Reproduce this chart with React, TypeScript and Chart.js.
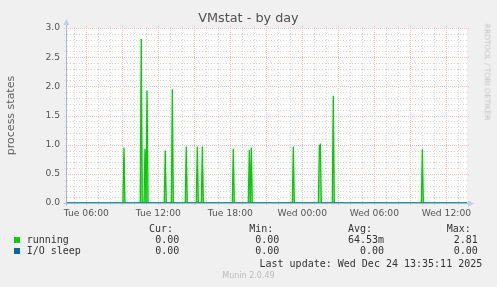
import React, { useEffect, useRef } from 'react';
import { Chart, registerables } from 'chart.js';
Chart.register(...registerables);

// Time axis in hours since Tue 00:00
const X_MIN = 4.31;
const X_MAX = 37.72;
const SAMPLE_STEP = 5 / 60;

// running spikes (hours since Tue 00:00) and values
const runningHours = [9.14, 10.58, 10.89, 11.06, 12.58, 13.17, 14.33, 15.25, 15.67, 18.25, 19.58, 19.75, 23.25, 25.42, 25.5, 26.58, 34.0];
const runningValues = [0.95, 2.81, 0.93, 1.93, 0.9, 1.95, 0.97, 0.97, 0.97, 0.93, 0.91, 0.95, 0.97, 0.98, 1.0, 1.84, 0.92];
// I/O sleep is flat at zero
const ioSleepHours = [X_MIN, X_MAX];
const ioSleepValues = [0, 0];

const xTickHours = [6, 12, 18, 24, 30, 36];
const xTickLabels = ['Tue 06:00', 'Tue 12:00', 'Tue 18:00', 'Wed 00:00', 'Wed 06:00', 'Wed 12:00'];
const yTickValues = [0, 0.5, 1, 1.5, 2, 2.5, 3];

const legendNames = ['running', 'I/O sleep'];
const legendColors = ['#00CC00', '#0066B3'];
const legendCur = ['0.00', '0.00'];
const legendMin = ['0.00', '0.00'];
const legendAvg = ['64.53m', '0.00'];
const legendMax = ['2.81', '0.00'];

function buildRunning() {
  const pts: { x: number; y: number }[] = [{ x: X_MIN, y: 0 }];
  const n = runningHours.length;
  runningHours.forEach((h, i) => {
    const prev = i > 0 ? runningHours[i - 1] : -Infinity;
    const next = i < n - 1 ? runningHours[i + 1] : Infinity;
    if (h - prev > SAMPLE_STEP * 1.5) pts.push({ x: h - SAMPLE_STEP, y: 0 });
    pts.push({ x: h, y: runningValues[i] });
    if (next - h > SAMPLE_STEP * 1.5) pts.push({ x: h + SAMPLE_STEP, y: 0 });
  });
  pts.push({ x: X_MAX, y: 0 });
  return pts;
}

const bgPlugin = {
  id: 'rrdBg',
  beforeDraw(chart: any) {
    const { ctx, chartArea: a } = chart;
    ctx.save();
    ctx.fillStyle = '#F0F0F0';
    ctx.fillRect(0, 0, chart.width, chart.height);
    ctx.fillStyle = '#FFFFFF';
    ctx.fillRect(a.left, a.top, a.right - a.left, a.bottom - a.top);
    ctx.restore();
  },
};

const gridPlugin = {
  id: 'rrdGrid',
  beforeDatasetsDraw(chart: any) {
    const { ctx, chartArea: a, scales } = chart;
    const xs = scales.x;
    const ys = scales.y;
    ctx.save();
    ctx.lineWidth = 1;
    const style = (major: boolean) => {
      ctx.strokeStyle = major ? '#F3BDBD' : '#D6D6D6';
      ctx.setLineDash(major ? [1, 1] : [1, 2]);
    };
    const drawV = (major: boolean) => {
      style(major);
      for (let h = Math.ceil(X_MIN); h <= X_MAX; h++) {
        if ((h % 3 === 0) !== major) continue;
        const px = Math.round(xs.getPixelForValue(h)) + 0.5;
        ctx.beginPath();
        ctx.moveTo(px, a.bottom + 2);
        ctx.lineTo(px, a.top - 2);
        ctx.stroke();
      }
    };
    const drawH = (major: boolean) => {
      style(major);
      for (let k = 1; k <= 30; k++) {
        if ((k % 5 === 0) !== major) continue;
        const py = Math.round(ys.getPixelForValue(k / 10)) + 0.5;
        ctx.beginPath();
        ctx.moveTo(a.left - 2, py);
        ctx.lineTo(a.right + 2, py);
        ctx.stroke();
      }
    };
    drawV(false);
    drawH(false);
    drawV(true);
    drawH(true);
    ctx.restore();
  },
};

const axisPlugin = {
  id: 'rrdAxis',
  afterDatasetsDraw(chart: any) {
    const { ctx, chartArea: a } = chart;
    ctx.save();
    ctx.setLineDash([]);
    ctx.lineWidth = 1;
    ctx.strokeStyle = '#A8B2E6';
    const bx = Math.round(a.left) + 0.5;
    const by = Math.round(a.bottom) + 0.5;
    ctx.beginPath();
    ctx.moveTo(bx, by + 2);
    ctx.lineTo(bx, a.top - 4);
    ctx.moveTo(bx - 3, by);
    ctx.lineTo(a.right + 2, by);
    ctx.stroke();
    ctx.fillStyle = '#C2CAF4';
    ctx.beginPath();
    ctx.moveTo(bx - 3, a.top - 3);
    ctx.lineTo(bx + 3, a.top - 3);
    ctx.lineTo(bx, a.top - 9);
    ctx.closePath();
    ctx.fill();
    ctx.beginPath();
    ctx.moveTo(a.right + 1, by - 3);
    ctx.lineTo(a.right + 1, by + 3);
    ctx.lineTo(a.right + 7, by);
    ctx.closePath();
    ctx.fill();
    ctx.restore();
  },
};

function Txt(props: { x: number; y: number; size: number; mono?: boolean; color?: string; children: any }) {
  const { x, y, size, mono, color } = props;
  return (
    <div
      style={{
        position: 'absolute',
        left: x,
        top: y - 0.846 * size,
        fontFamily: mono ? '"DejaVu Sans Mono", monospace' : '"DejaVu Sans", sans-serif',
        fontSize: size,
        lineHeight: `${size}px`,
        color: color || '#333',
        whiteSpace: 'pre',
      }}
    >
      {props.children}
    </div>
  );
}

export default function App() {
  const ref = useRef<HTMLCanvasElement | null>(null);
  useEffect(() => {
    if (!ref.current) return;
    const chart = new Chart(ref.current, {
      type: 'line',
      data: {
        datasets: [
          {
            label: legendNames[1],
            data: ioSleepHours.map((h, i) => ({ x: h, y: ioSleepValues[i] })),
            borderColor: legendColors[1],
            borderWidth: 1,
            pointRadius: 0,
            fill: false,
          },
          {
            label: legendNames[0],
            data: buildRunning(),
            borderColor: '#00CC00',
            backgroundColor: 'rgba(0,204,0,0.45)',
            borderWidth: 1.3,
            pointRadius: 0,
            fill: 'origin',
          },
        ],
      },
      options: {
        animation: false,
        responsive: false,
        maintainAspectRatio: false,
        layout: { padding: { left: 0, right: 30, top: 28, bottom: 0 } },
        plugins: { legend: { display: false }, title: { display: false }, tooltip: { enabled: false } },
        elements: { line: { tension: 0 } },
        scales: {
          x: {
            type: 'linear',
            min: X_MIN,
            max: X_MAX,
            grid: { display: false, drawTicks: false },
            border: { display: false },
            afterFit: (s: any) => {
              s.height = 84;
            },
            afterBuildTicks: (s: any) => {
              s.ticks = xTickHours.map((v) => ({ value: v }));
            },
            ticks: {
              autoSkip: false,
              maxRotation: 0,
              padding: 5.5,
              color: '#555555',
              font: { family: 'DejaVu Sans', size: 9.2 },
              callback: (v: any) => {
                const i = xTickHours.indexOf(Number(v));
                return i >= 0 ? xTickLabels[i] : '';
              },
            },
          },
          y: {
            min: 0,
            max: 3,
            grid: { display: false, drawTicks: false },
            border: { display: false },
            title: {
              display: true,
              text: 'process states',
              color: '#606060',
              font: { family: 'DejaVu Sans', size: 11, lineHeight: 1 },
              padding: { top: 6, bottom: 0 },
            },
            afterFit: (s: any) => {
              s.width = 66;
            },
            afterBuildTicks: (s: any) => {
              s.ticks = yTickValues.map((v) => ({ value: v }));
            },
            ticks: {
              padding: 6,
              color: '#555555',
              font: { family: 'DejaVu Sans', size: 9.2 },
              callback: (v: any) => Number(v).toFixed(1),
            },
          },
        },
      },
      plugins: [bgPlugin, gridPlugin, axisPlugin],
    } as any);
    return () => chart.destroy();
  }, []);

  const rowBase = [243, 254.3];
  return (
    <div style={{ position: 'fixed', left: 0, top: 0, width: 497, height: 287, background: '#F0F0F0', overflow: 'hidden' }}>
      <canvas ref={ref} width={497} height={287} style={{ position: 'absolute', left: 0, top: 0, display: 'block' }} />
      <div
        style={{
          position: 'absolute',
          left: 0,
          width: 497,
          top: 23.3 - 0.846 * 12.8,
          textAlign: 'center',
          fontFamily: '"DejaVu Sans", sans-serif',
          fontSize: 12.8,
          lineHeight: '12.8px',
          color: '#505050',
        }}
      >
        VMstat - by day
      </div>
      <div
        style={{
          position: 'absolute',
          left: 487,
          top: 72,
          transform: 'translate(-50%, -50%) rotate(90deg)',
          fontFamily: '"DejaVu Sans", sans-serif',
          fontSize: 7.5,
          lineHeight: '7.5px',
          color: '#C4C4C4',
          whiteSpace: 'nowrap',
        }}
      >
        RRDTOOL / TOBI OETIKER
      </div>
      <Txt x={149} y={232.3} size={10} mono>Cur:</Txt>
      <Txt x={249.3} y={232.3} size={10} mono>Min:</Txt>
      <Txt x={348} y={232.3} size={10} mono>Avg:</Txt>
      <Txt x={446.7} y={232.3} size={10} mono>Max:</Txt>
      {legendNames.map((name, i) => (
        <React.Fragment key={name}>
          <div
            style={{
              position: 'absolute',
              left: 14,
              top: rowBase[i] - 6,
              width: 6,
              height: 6,
              background: legendColors[i],
            }}
          />
          <Txt x={26.7} y={rowBase[i]} size={10} mono>{name}</Txt>
          <Txt x={155.3} y={rowBase[i]} size={10} mono>{legendCur[i]}</Txt>
          <Txt x={255.3} y={rowBase[i]} size={10} mono>{legendMin[i]}</Txt>
          <Txt x={384 - legendAvg[i].length * 6.02} y={rowBase[i]} size={10} mono>{legendAvg[i]}</Txt>
          <Txt x={453.7} y={rowBase[i]} size={10} mono>{legendMax[i]}</Txt>
        </React.Fragment>
      ))}
      <Txt x={259.5} y={267} size={10} mono>Last update: Wed Dec 24 13:35:11 2025</Txt>
      <div
        style={{
          position: 'absolute',
          left: 0,
          width: 497,
          top: 279 - 0.846 * 8,
          textAlign: 'center',
          fontFamily: '"DejaVu Sans", sans-serif',
          fontSize: 8,
          lineHeight: '8px',
          color: '#BBBBBB',
        }}
      >
        Munin 2.0.49
      </div>
    </div>
  );
}
